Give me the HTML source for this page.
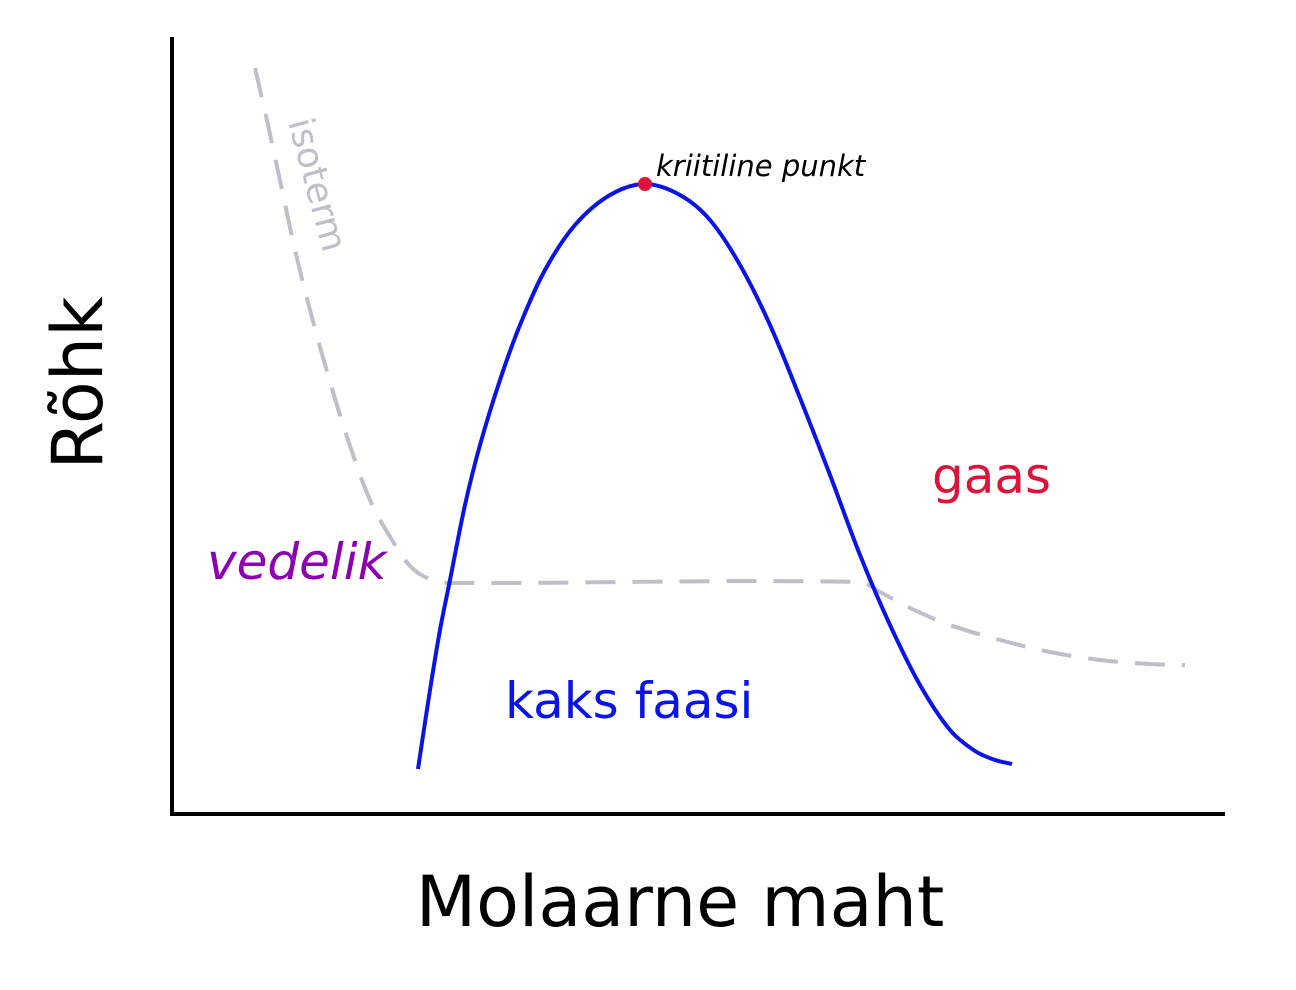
<!DOCTYPE html>
<html><head><meta charset="utf-8"><style>
html,body{margin:0;padding:0;background:#fff;}
svg{display:block;font-family:"DejaVu Sans","Liberation Sans",sans-serif;}
</style></head><body>
<svg id="chart" width="1296" height="990">
<g id="plot"></g>
<text x="0" y="0" font-size="70" text-anchor="middle" transform="translate(102,383) rotate(-90)">Rõhk</text>
<text x="680" y="926" font-size="70" text-anchor="middle">Molaarne maht</text>
<text font-size="36" fill="#bfbfc8" transform="translate(288,122) rotate(75)">isoterm</text>
<text x="656" y="176" font-size="29" font-style="italic">kriitiline punkt</text>
<text x="932" y="493" font-size="50" fill="#dc143c">gaas</text>
<text x="207" y="579" font-size="50" font-style="italic" fill="#8b00b0">vedelik</text>
<text x="505" y="718" font-size="50" fill="#0a14e6">kaks faasi</text>
</svg>
<script>
// x: molar volume (arbitrary units), y: pressure (arbitrary units)
const domeX=[246,258,268,278,293,308,328,348,373,403,438,473,508,538,568,598,628,658,688,718,748,778,803,823,840];
const domeY=[45,124,184,234,309,369,434,489,544,589,619,630,619,594,549,489,416,339,259,189,129,84,63,54,50];
const isoX=[83,96,110,123,138,156,176,198,220,240,260,278,688,708,738,778,828,878,928,978,1013];
const isoY=[746,689,624,564,504,439,374,314,274,246,234,231,232,222,206,189,174,162,154,150,149];
const critX=[473];
const critY=[630];
const sx=v=>172+v, sy=v=>814-v;
const NS="http://www.w3.org/2000/svg";
const g=document.getElementById('plot');
function smooth(xs,ys){
  const p=xs.map((x,i)=>[sx(x),sy(ys[i])]);
  let d=`M${p[0][0]},${p[0][1]}`;
  for(let i=0;i<p.length-1;i++){
    const p0=p[Math.max(0,i-1)],p1=p[i],p2=p[i+1],p3=p[Math.min(p.length-1,i+2)];
    const l1=Math.hypot(p2[0]-p1[0],p2[1]-p1[1]);
    const la=Math.hypot(p2[0]-p0[0],p2[1]-p0[1])||1, lb=Math.hypot(p3[0]-p1[0],p3[1]-p1[1])||1;
    const k=0.33;
    const c1=[p1[0]+(p2[0]-p0[0])/la*l1*k,p1[1]+(p2[1]-p0[1])/la*l1*k];
    const c2=[p2[0]-(p3[0]-p1[0])/lb*l1*k,p2[1]-(p3[1]-p1[1])/lb*l1*k];
    d+=` C${c1[0]},${c1[1]} ${c2[0]},${c2[1]} ${p2[0]},${p2[1]}`;
  }
  return d;
}
const iso=document.createElementNS(NS,'path');
iso.setAttribute('d',smooth(isoX,isoY));
iso.setAttribute('fill','none');iso.setAttribute('stroke','#bfbfc8');iso.setAttribute('stroke-width','4');iso.setAttribute('stroke-dasharray','30 17');


g.appendChild(iso);
const dome=document.createElementNS(NS,'path');
dome.setAttribute('d',smooth(domeX,domeY));
dome.setAttribute('fill','none');dome.setAttribute('stroke','#0a14e6');dome.setAttribute('stroke-width','4');


g.appendChild(dome);
const ax=document.createElementNS(NS,'path');
ax.setAttribute('d','M172,37 L172,814 L1225,814');
ax.setAttribute('fill','none');ax.setAttribute('stroke','#000');ax.setAttribute('stroke-width','4');


g.appendChild(ax);
critX.forEach((x,i)=>{
  const c=document.createElementNS(NS,'circle');
  c.setAttribute('cx',sx(x));c.setAttribute('cy',sy(critY[i]));c.setAttribute('r','7');c.setAttribute('fill','#dc143c');
  
  
  g.appendChild(c);
});
</script>
</body></html>
